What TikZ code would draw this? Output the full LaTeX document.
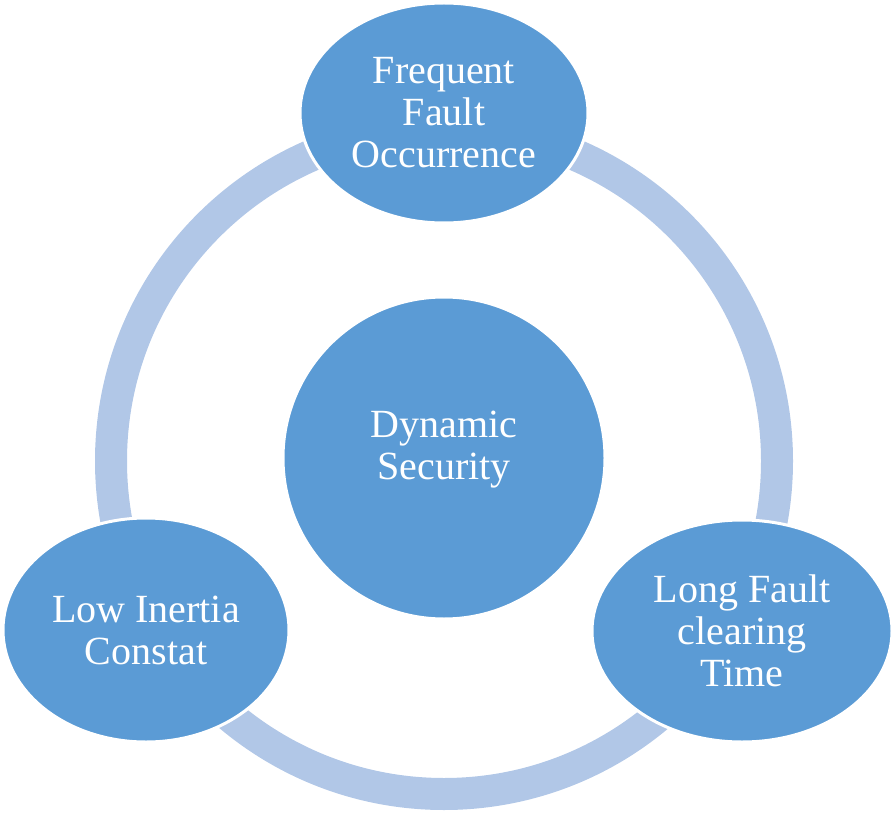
\documentclass[tikz,border=0pt]{standalone}
\usepackage{fontspec}
\setmainfont{Liberation Serif}
\usetikzlibrary{shapes.geometric}
\definecolor{bubbleblue}{RGB}{91,155,213}
\definecolor{ringblue}{RGB}{177,199,231}
\begin{document}
\begin{tikzpicture}[x=1pt,y=-1pt,
  bubble/.style={ellipse, fill=bubbleblue, draw=white, line width=3pt, inner sep=0pt},
  bubbletext/.style={text=white, align=center, font=\fontsize{40}{42}\selectfont},
  ringline/.style={draw=ringblue, line width=32pt}]
\useasboundingbox (0,0) rectangle (894,813);
\draw[ringline] (444,461) circle[radius=333pt];
\node[bubble, minimum width=322pt, minimum height=322pt] (core) at (444,458) {};
\node[bubbletext] (coretext) at (444,450) {Dynamic\\Security};
\node[bubble, bubbletext, minimum width=288pt, minimum height=220pt] (top) at (444,113) {Frequent\\Fault\\Occurrence};
\node[bubble, bubbletext, minimum width=286pt, minimum height=224pt] (left) at (146,630) {Low Inertia\\Constat};
\node[bubble, bubbletext, minimum width=300pt, minimum height=222pt] (right) at (742,631) {Long Fault\\clearing\\Time};
\end{tikzpicture}
\end{document}
